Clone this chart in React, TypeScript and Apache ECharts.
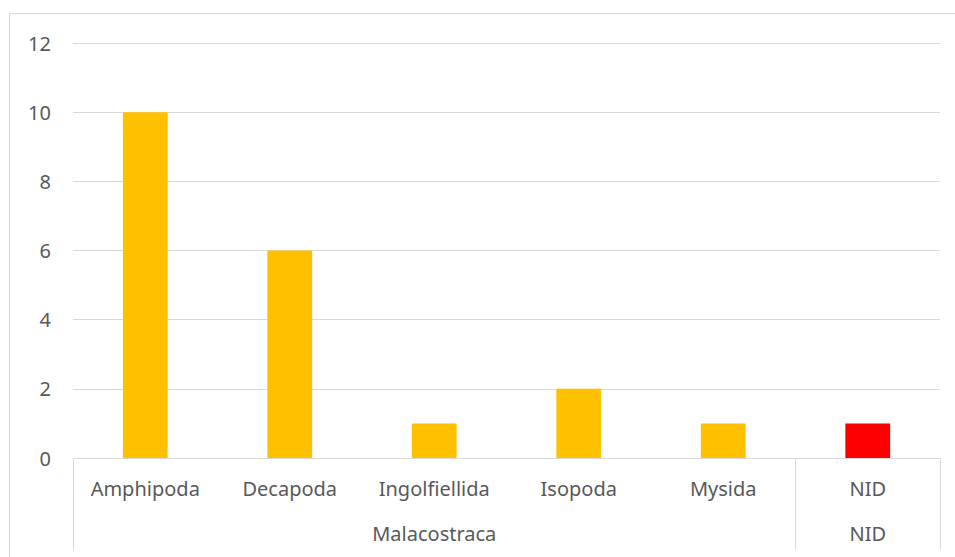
import React, { useEffect, useRef } from "react";
import * as echarts from "echarts";

const categories = ["Amphipoda", "Decapoda", "Ingolfiellida", "Isopoda", "Mysida", "NID"];
const values = [10, 6, 1, 2, 1, 1];
const barColors = ["#FFC000", "#FFC000", "#FFC000", "#FFC000", "#FFC000", "#FF0000"];
const groupLabels = ["Malacostraca", "NID"];
const groupCenters = [2.5, 5.5];
const groupBoundaries = [0, 5, 6];
const yTicks = [0, 2, 4, 6, 8, 10, 12];

const FONT = "Noto Sans";
const TEXT = "#595959";
const LINE = "#D9D9D9";

export default function App() {
  const ref = useRef<HTMLDivElement>(null);
  useEffect(() => {
    if (!ref.current) return;
    const chart = echarts.init(ref.current, undefined, { renderer: "svg" });
    chart.setOption({
      animation: false,
      backgroundColor: "#ffffff",
      textStyle: { fontFamily: FONT },
      graphic: [
        {
          type: "rect",
          shape: { x: 9.5, y: 13.5, width: 1000, height: 1000 },
          style: { fill: "none", stroke: LINE, lineWidth: 1 },
          silent: true,
        },
      ],
      grid: { left: 73, right: 15, top: 43, bottom: 99, containLabel: false },
      xAxis: [
        {
          type: "category",
          data: categories,
          position: "bottom",
          axisLine: { show: true, lineStyle: { color: LINE, width: 1 } },
          axisTick: { show: false },
          axisLabel: { color: TEXT, fontSize: 20, fontFamily: FONT, margin: 20, interval: 0 },
        },
        {
          type: "value",
          min: 0,
          max: 6,
          position: "bottom",
          axisLine: { show: false },
          splitLine: { show: false },
          axisTick: {
            show: true,
            customValues: groupBoundaries,
            length: 92,
            lineStyle: { color: LINE, width: 1 },
          },
          axisLabel: {
            show: true,
            customValues: groupCenters,
            color: TEXT,
            fontSize: 20,
            fontFamily: FONT,
            margin: 65,
            formatter: (v: number) => {
              const i = groupCenters.indexOf(v);
              return i >= 0 ? groupLabels[i] : "";
            },
          },
        },
      ],
      yAxis: {
        type: "value",
        min: yTicks[0],
        max: yTicks[yTicks.length - 1],
        interval: 2,
        axisLine: { show: false },
        axisTick: { show: false },
        splitLine: { lineStyle: { color: LINE, width: 1 } },
        axisLabel: { color: TEXT, fontSize: 20, fontFamily: FONT, margin: 22 },
      },
      series: [
        {
          type: "bar",
          xAxisIndex: 0,
          barWidth: "31%",
          data: values.map((v, i) => ({ value: v, itemStyle: { color: barColors[i] } })),
        },
      ],
    });
    return () => chart.dispose();
  }, []);
  return (
    <div
      ref={ref}
      style={{ position: "fixed", left: 0, top: 0, width: 955, height: 557 }}
    />
  );
}
